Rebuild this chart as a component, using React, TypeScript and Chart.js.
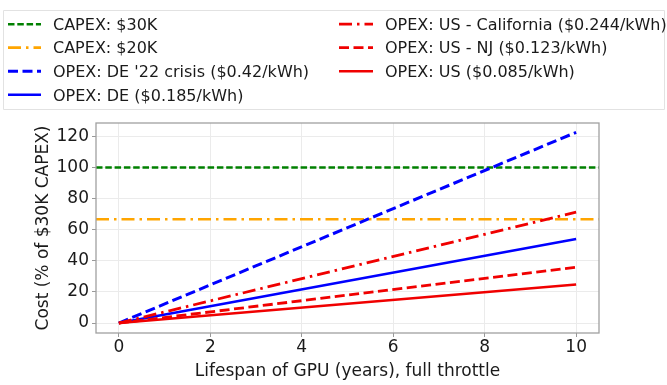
import React, { useEffect, useRef } from 'react';
import { Chart, registerables } from 'chart.js';

Chart.register(...registerables);

// ---- data ----
const lifespanYears = [0, 10];
const xAxisRange = [-0.5, 10.5];
const yAxisRange = [-6.4, 128.6];
const xTickValues = [0, 2, 4, 6, 8, 10];
const yTickValues = [0, 20, 40, 60, 80, 100, 120];

const capex30k = 100;
const capex20k = 66.7;
const opexDeCrisis = [0, 122.6];
const opexDe = [0, 54.0];
const opexCalifornia = [0, 71.3];
const opexNj = [0, 35.9];
const opexUs = [0, 24.8];

const seriesLabels = [
  'CAPEX: $30K',
  'CAPEX: $20K',
  "OPEX: DE '22 crisis ($0.42/kWh)",
  'OPEX: DE ($0.185/kWh)',
  'OPEX: US - California ($0.244/kWh)',
  'OPEX: US - NJ ($0.123/kWh)',
  'OPEX: US ($0.085/kWh)',
];

const xTitle = 'Lifespan of GPU (years), full throttle';
const yTitle = 'Cost (% of $30K CAPEX)';

const FONT = '"DejaVu Sans", Verdana, sans-serif';

const DASHED = [6.5, 2.8];
const DASHED_BIG = [10, 4.5];
const DASHDOT = [13, 5, 2.5, 5];
const SOLID: number[] = [];

const toPoints = (xs: number[], ys: number[]) => xs.map((x, i) => ({ x, y: ys[i] }));
const hLine = (v: number) => xAxisRange.map((x) => ({ x, y: v }));

const legendPlugin = {
  id: 'mplLegend',
  afterDraw(chart: any) {
    const ctx = chart.ctx as CanvasRenderingContext2D;
    ctx.save();
    ctx.strokeStyle = '#e2e2e2';
    ctx.lineWidth = 1;
    ctx.beginPath();
    ctx.rect(3.5, 10.5, 661, 99);
    ctx.stroke();
    const ds = chart.data.datasets;
    const rowCap = [24.2, 47.6, 71.2, 94.8];
    ds.forEach((d: any, i: number) => {
      const col = i < 4 ? 0 : 1;
      const row = i < 4 ? i : i - 4;
      const cy = rowCap[row];
      const lx0 = col === 0 ? 8 : 339;
      const lx1 = col === 0 ? 41 : 373;
      const tx = col === 0 ? 53 : 385;
      ctx.strokeStyle = d.borderColor;
      ctx.lineWidth = d.borderWidth;
      ctx.setLineDash(d.borderDash || []);
      ctx.lineCap = 'butt';
      ctx.beginPath();
      ctx.moveTo(lx0, cy);
      ctx.lineTo(lx1, cy);
      ctx.stroke();
      ctx.setLineDash([]);
      ctx.fillStyle = '#1a1a1a';
      ctx.font = `16px ${FONT}`;
      ctx.textBaseline = 'alphabetic';
      ctx.textAlign = 'left';
      ctx.fillText(d.label, tx, cy + 5.8);
    });
    ctx.restore();
  },
};

const framePlugin = {
  id: 'frame',
  afterDatasetsDraw(chart: any) {
    const { left, right, top, bottom } = chart.chartArea;
    const ctx = chart.ctx as CanvasRenderingContext2D;
    ctx.save();
    ctx.strokeStyle = '#a0a0a0';
    ctx.lineWidth = 1.3;
    ctx.strokeRect(left, top, right - left, bottom - top);
    ctx.restore();
  },
};

export default function App() {
  const ref = useRef<HTMLCanvasElement | null>(null);
  useEffect(() => {
    if (!ref.current) return;
    const mk = (i: number, data: any[], color: string, dash: number[], width: number) => ({
      label: seriesLabels[i],
      data,
      borderColor: color,
      backgroundColor: color,
      borderDash: dash,
      borderWidth: width,
      pointRadius: 0,
      pointHoverRadius: 0,
      fill: false,
      tension: 0,
      borderCapStyle: 'butt',
      order: 10 - i,
    });
    const chart = new Chart(ref.current, {
      type: 'line',
      data: {
        datasets: [
          mk(0, hLine(capex30k), '#008000', DASHED, 2.6),
          mk(1, hLine(capex20k), '#ffa500', DASHDOT, 2.6),
          mk(2, toPoints(lifespanYears, opexDeCrisis), '#0000ff', DASHED_BIG, 3),
          mk(3, toPoints(lifespanYears, opexDe), '#0000ff', SOLID, 2.6),
          mk(4, toPoints(lifespanYears, opexCalifornia), '#f00000', DASHDOT, 2.8),
          mk(5, toPoints(lifespanYears, opexNj), '#f00000', DASHED_BIG, 2.8),
          mk(6, toPoints(lifespanYears, opexUs), '#f00000', SOLID, 2.6),
        ] as any,
      },
      options: {
        animation: false,
        responsive: false,
        devicePixelRatio: 1,
        layout: { padding: { left: 0, right: 68, top: 123, bottom: 0 } },
        plugins: {
          legend: { display: false },
          tooltip: { enabled: false },
        },
        scales: {
          x: {
            type: 'linear',
            min: xAxisRange[0],
            max: xAxisRange[1],
            afterBuildTicks: (s: any) => {
              s.ticks = xTickValues.map((v) => ({ value: v }));
            },
            afterFit: (s: any) => {
              s.height = 52;
            },
            grid: { color: '#ebebeb', lineWidth: 1, tickLength: 4, tickColor: '#999', drawTicks: true },
            border: { display: false },
            ticks: {
              font: { family: FONT, size: 17 },
              color: '#1a1a1a',
              padding: 0,
              maxRotation: 0,
              autoSkip: false,
            },
            title: {
              display: true,
              text: xTitle,
              font: { family: FONT, size: 17 },
              color: '#1a1a1a',
              padding: { top: 0, bottom: 3 },
            },
          },
          y: {
            type: 'linear',
            min: yAxisRange[0],
            max: yAxisRange[1],
            afterBuildTicks: (s: any) => {
              s.ticks = yTickValues.map((v) => ({ value: v }));
            },
            afterFit: (s: any) => {
              s.width = 96;
            },
            grid: { color: '#ebebeb', lineWidth: 1, tickLength: 4, tickColor: '#999', drawTicks: true },
            border: { display: false },
            ticks: {
              font: { family: FONT, size: 17 },
              color: '#1a1a1a',
              padding: 3,
              autoSkip: false,
            },
            title: {
              display: true,
              text: yTitle,
              font: { family: FONT, size: 17 },
              color: '#1a1a1a',
              padding: { top: 33, bottom: 0 },
            },
          },
        },
      } as any,
      plugins: [legendPlugin, framePlugin],
    });
    return () => chart.destroy();
  }, []);
  return (
    <div style={{ position: 'absolute', left: 0, top: 0, width: 667, height: 385, background: '#fff' }}>
      <canvas ref={ref} width={667} height={385} style={{ display: 'block', width: 667, height: 385 }} />
    </div>
  );
}
